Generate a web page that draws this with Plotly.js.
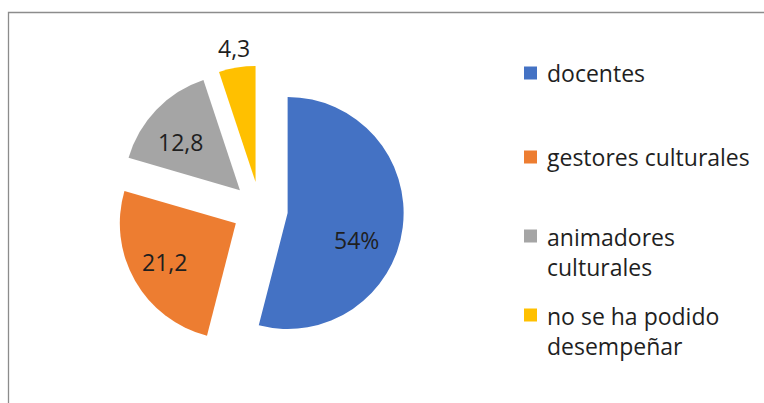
<!DOCTYPE html>
<html>
<head>
<meta charset="utf-8">
<script src="https://cdn.plot.ly/plotly-3.0.1.min.js"></script>
<style>html,body{margin:0;padding:0;background:#fff;}#chart{width:764px;height:403px;}</style>
</head>
<body>
<div id="chart"></div>
<script>
// Categories (legend labels)
const categories = ["docentes", "gestores culturales", "animadores culturales", "no se ha podido desempeñar"];
// Legend text as wrapped in the reference
const legendText = ["docentes", "gestores culturales", "animadores<br>culturales", "no se ha podido<br>desempeñar"];
// Slice sizes (percent of the circle)
const sliceValues = [54, 25.5, 15.4, 5.1];
// Data labels as printed on the chart
const dataLabels = ["54%", "21,2", "12,8", "4,3"];
const colors = ["#4472C4", "#ED7D31", "#A5A5A5", "#FFC000"];

// ---- styling / layout constants ----
const W = 764, H = 403;
const FONT = "Open Sans, Noto Sans, sans-serif";
const textColor = "#1f1f1f";
const PULL = 0.24;
const domainX = [0.15204, 0.52859];
const domainY = [0.12323, 0.83707];
const labelRadius = [0.64, 0.70, 0.66, 1.17];   // label distance (fraction of radius)
const labelNudge = [14, 1, -5, 0];               // degrees off the slice bisector

const trace = {
  type: "pie",
  labels: categories,
  values: sliceValues,
  text: dataLabels,
  textinfo: "none",
  hoverinfo: "label+text",
  sort: false,
  direction: "clockwise",
  rotation: 0,
  pull: categories.map(() => PULL),
  marker: { colors: colors, line: { width: 0 } },
  domain: { x: domainX, y: domainY },
  showlegend: false
};

// Pie geometry (same rule Plotly uses: r = min(half box) / (1 + max pull))
const boxW = W * (domainX[1] - domainX[0]);
const boxH = H * (domainY[1] - domainY[0]);
const R = Math.min(boxW, boxH) / 2 / (1 + PULL);
const CX = W * (domainX[0] + domainX[1]) / 2;
const CY = H * (1 - domainY[0]) - boxH / 2;
const total = sliceValues.reduce((a, b) => a + b, 0);

const annotations = [];
let cum = 0;
sliceValues.forEach((v, i) => {
  const bis = (cum + v / 2) / total * 2 * Math.PI;
  cum += v;
  const vx = CX + PULL * R * Math.sin(bis);
  const vy = CY - PULL * R * Math.cos(bis);
  const a = bis + labelNudge[i] * Math.PI / 180;
  const px = vx + labelRadius[i] * R * Math.sin(a);
  const py = vy - labelRadius[i] * R * Math.cos(a);
  annotations.push({
    xref: "paper", yref: "paper", x: px / W, y: 1 - py / H,
    xanchor: "center", yanchor: "middle", showarrow: false,
    text: dataLabels[i],
    font: { family: FONT, size: 23, color: textColor }
  });
});

// Custom legend (spacing as in the reference)
const legendCenters = [73, 157, 236, 315]; // px from top, first-line centre
const shapes = [{
  type: "rect", xref: "paper", yref: "paper",
  x0: 8.5 / W, x1: 1.02, y0: -0.02, y1: 1 - 12.5 / H,
  line: { color: "#8c8c8c", width: 1.3 }, fillcolor: "rgba(0,0,0,0)", layer: "below"
}];
categories.forEach((c, i) => {
  const yc = legendCenters[i];
  shapes.push({
    type: "rect", xref: "paper", yref: "paper",
    x0: 524 / W, x1: 537 / W, y0: 1 - (yc + 6.5) / H, y1: 1 - (yc - 6.5) / H,
    line: { width: 0 }, fillcolor: colors[i]
  });
  const lines = legendText[i].split("<br>").length;
  annotations.push({
    xref: "paper", yref: "paper", x: 545 / W, y: 1 - yc / H,
    xanchor: "left", yanchor: "middle",
    yshift: -(lines - 1) * 16,
    text: legendText[i], showarrow: false, align: "left",
    font: { family: FONT, size: 23, color: textColor }
  });
});

const layout = {
  width: W, height: H,
  margin: { l: 0, r: 0, t: 0, b: 0 },
  paper_bgcolor: "#ffffff",
  showlegend: false,
  shapes: shapes,
  annotations: annotations
};

Plotly.newPlot("chart", [trace], layout, { staticPlot: true, displayModeBar: false });
</script>
</body>
</html>
